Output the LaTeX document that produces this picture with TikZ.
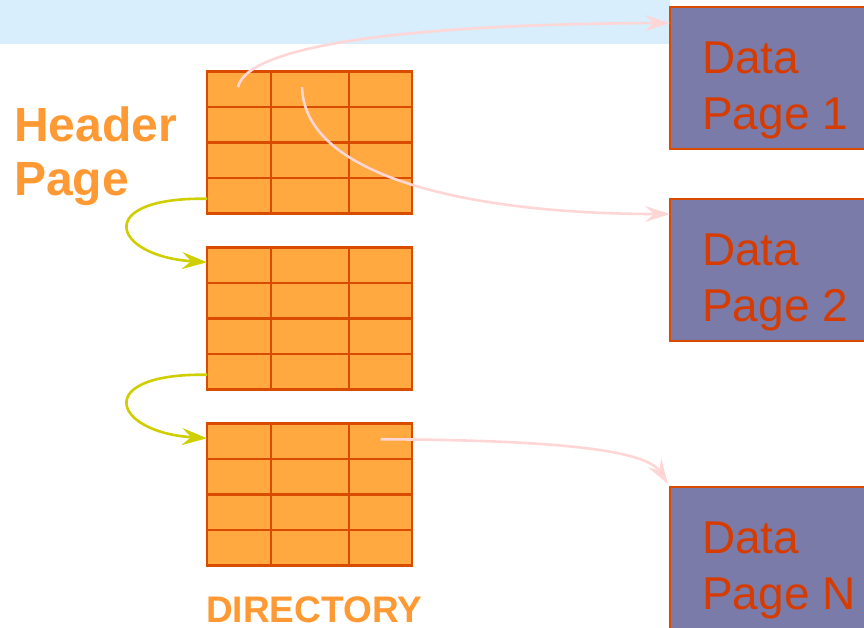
\documentclass[tikz,border=0pt]{standalone}
\usepackage{fontspec}
\setmainfont{Liberation Sans}
\usetikzlibrary{arrows.meta}
\definecolor{bandblue}{HTML}{D8EEFC}
\definecolor{cellfill}{HTML}{FFA940}
\definecolor{cellline}{HTML}{D94C00}
\definecolor{pagefill}{HTML}{7A7BA8}
\definecolor{pagetext}{HTML}{D63C00}
\definecolor{labelorange}{HTML}{FF9933}
\definecolor{linkpink}{HTML}{FFD6D6}
\definecolor{chainyellow}{HTML}{CFCF00}
\tikzset{
  cell/.style={draw=cellline, fill=cellfill, line width=2.6pt, inner sep=0pt, outer sep=0pt, anchor=north west},
  datapage/.style={draw=cellline, fill=pagefill, line width=2.6pt, inner sep=0pt, outer sep=0pt,
    minimum width=220pt, minimum height=142pt, anchor=north west},
  pagelabel/.style={text=pagetext, font=\fontsize{46}{56}\selectfont, align=left, inner sep=0pt, anchor=north west},
  sidelabel/.style={text=labelorange, font=\bfseries\fontsize{48}{54}\selectfont, align=left, inner sep=0pt, anchor=north west},
  pointer/.style={draw=linkpink, line width=2.6pt, -{Stealth[length=25pt,width=16pt,inset=9pt]}},
  chain/.style={draw=chainyellow, line width=2.6pt, -{Stealth[length=25pt,width=17pt,inset=9pt]}}
}
\begin{document}
\begin{tikzpicture}[x=1pt,y=-1pt]
\useasboundingbox (0,0) rectangle (864,628);
\clip (0,0) rectangle (864,628);

% light blue band along the top
\fill[bandblue] (0,0) rectangle (670,44);

% directory pages: three blocks of 4 x 3 cells
\foreach \b/\top in {1/71.5,2/247.5,3/423.5}{
  \foreach \r in {1,...,4}{
    \foreach \c/\xl/\w in {1/207/64,2/271/78,3/349/63}{
      \node[cell, minimum width=\w pt, minimum height=35.5pt] (b\b-\r-\c) at (\xl,{\top+(\r-1)*35.5}) {};
    }
  }
}

% data pages
\node[datapage] (dp1) at (670,7) {};
\node[datapage] (dp2) at (670,199) {};
\node[datapage] (dp3) at (670,487) {};
\node[pagelabel] (t1) at ([shift={(32pt,-35pt)}]dp1.north west) {Data\\Page 1};
\node[pagelabel] (t2) at ([shift={(32pt,-35pt)}]dp2.north west) {Data\\Page 2};
\node[pagelabel] (t3) at ([shift={(32pt,-35pt)}]dp3.north west) {Data\\Page N};

% labels
\node[sidelabel] (hdr) at (14,107) {Header\\Page};
\node[text=labelorange, font=\bfseries\fontsize{37}{40}\selectfont, inner sep=0pt, anchor=base west] (dir) at ([shift={(-1pt,-57pt)}]b3-4-1.south west) {DIRECTORY};

% pointer targets on the data pages
\coordinate (e1) at ([yshift=-16pt]dp1.north west);
\coordinate (e2) at ([yshift=-15pt]dp2.north west);
\coordinate (e3) at ([shift={(-2pt,3pt)}]dp3.north west);

% pointers from directory entries to data pages
\draw[pointer] ([shift={(-1pt,2pt)}]b1-1-1.center) .. controls (248,42) and (430,24) .. (e1);
\draw[pointer] ([shift={(-8pt,2pt)}]b1-1-2.center) .. controls (305,180) and (480,214) .. (e2);
\draw[pointer] ([shift={(0pt,2pt)}]b3-1-3.center) .. controls (540,440) and (645,448) .. (e3);

% chain links between directory pages
\draw[chain] ([yshift=-3pt]b1-4-1.west) .. controls (92,197) and (112,256) .. ([yshift=3pt]b2-1-1.west);
\draw[chain] ([yshift=-3pt]b2-4-1.west) .. controls (92,373) and (112,432) .. ([yshift=3pt]b3-1-1.west);
\end{tikzpicture}
\end{document}
